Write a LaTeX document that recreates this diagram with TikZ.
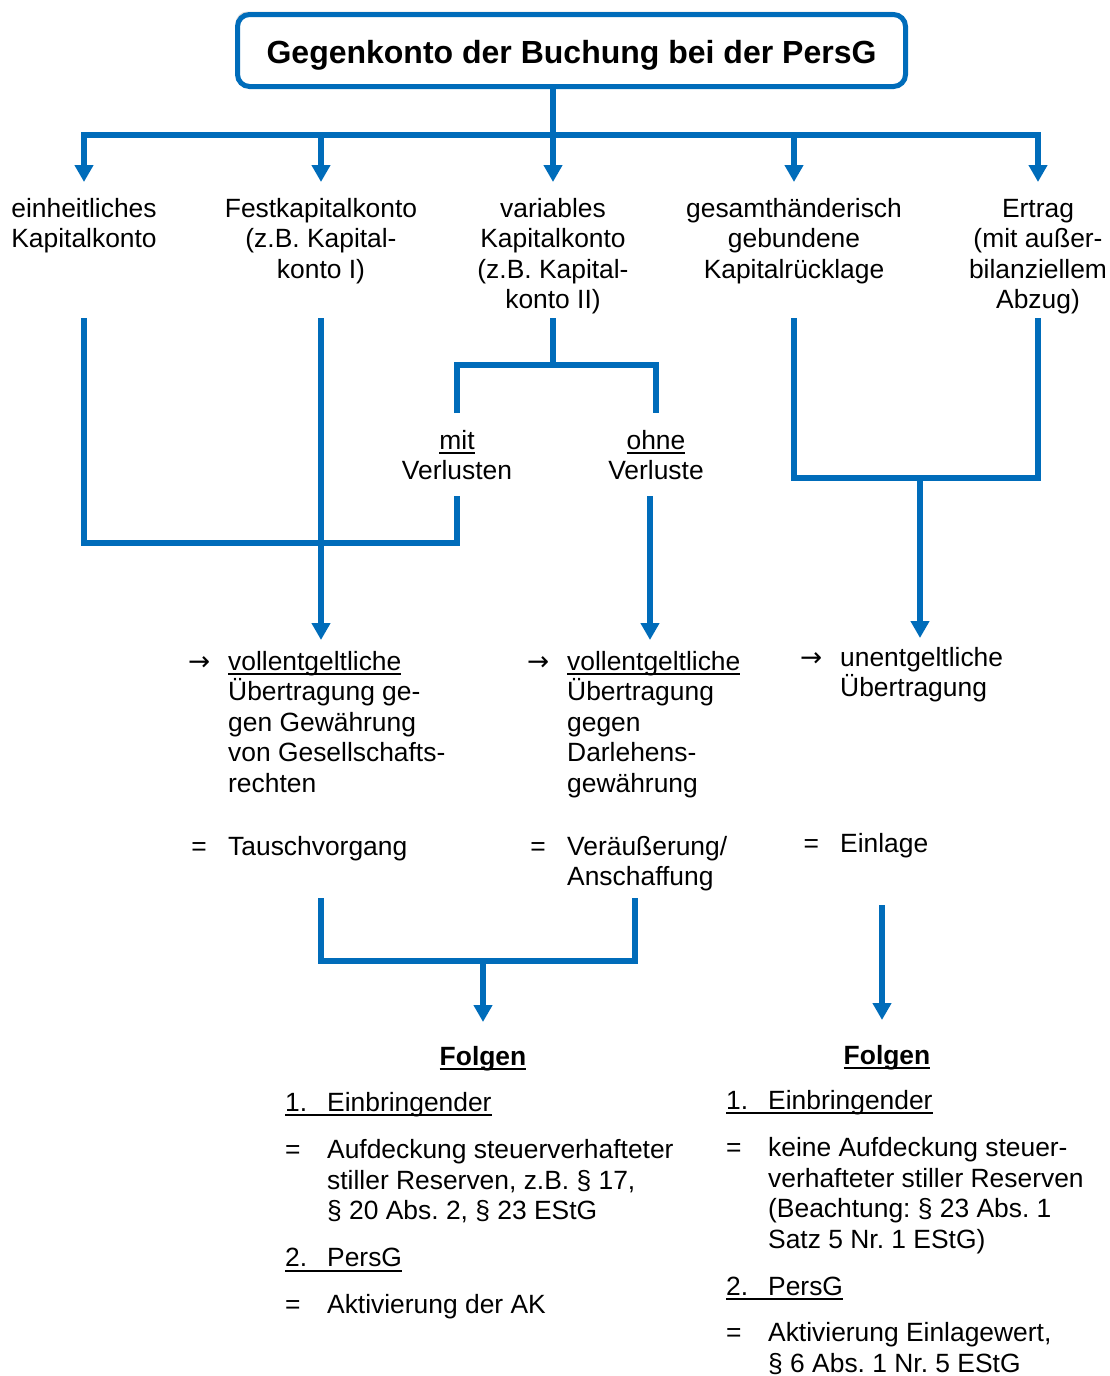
\documentclass[tikz,border=0pt]{standalone}
\usepackage{fontspec}
\setmainfont{Liberation Sans}
\newfontfamily\arrowfont{DejaVu Sans}
\frenchspacing
\usetikzlibrary{arrows.meta,shadows}
\definecolor{kontoblue}{RGB}{0,108,186}
\newcommand{\ts}{\rule{0pt}{26pt}}
\newcommand{\uln}[1]{\setbox0\hbox{#1}\rlap{\rule[-5pt]{\wd0}{2pt}}\box0}
\newcommand{\itemsym}[1]{\llap{\makebox[22pt]{#1}\hspace{18pt}}}

\begin{document}
\begin{tikzpicture}[x=1pt,y=-1pt,
  every node/.style={inner sep=0pt,font=\fontsize{26.4}{30.5}\selectfont},
  conn/.style={draw=kontoblue,line width=5.5pt},
  arr/.style={conn,-{Triangle[width=18pt,length=17pt]}},
  head/.style={anchor=north,align=center},
  item/.style={anchor=north west,align=left},
  bold/.style={font=\bfseries\fontsize{26.4}{30.5}\selectfont}]
  \useasboundingbox (0,0) rectangle (1109,1376);
  % Title
  \node[draw=kontoblue,line width=5pt,rounded corners=12pt,fill=white,
        minimum width=668pt,minimum height=72pt,text height=26pt,text depth=0pt,
        drop shadow={shadow xshift=-2pt,shadow yshift=3pt,opacity=.3},
        font=\bfseries\fontsize{32}{38}\selectfont] (title) at (571.5,50.5)
        {Gegenkonto der Buchung bei der PersG};
  % Accounts
  \node[head] (k1) at (84,191)   {\ts einheitliches\\Kapitalkonto};
  \node[head] (k2) at (321,191)  {\ts Festkapitalkonto\\(z.B. Kapital-\\konto I)};
  \node[head] (k3) at (553,191)  {\ts variables\\Kapitalkonto\\(z.B. Kapital-\\konto II)};
  \node[head] (k4) at (794,191)  {\ts gesamthänderisch\\gebundene\\Kapitalrücklage};
  \node[head] (k5) at (1038,191) {\ts Ertrag\\(mit außer-\\bilanziellem\\Abzug)};
  \node[head] (mit)  at (457,423) {\ts\uln{mit}\\Verlusten};
  \node[head] (ohne) at (656,423) {\ts\uln{ohne}\\Verluste};
  % Kind of transfer
  \node[item] (v1) at (228,644) {\ts\itemsym{\arrowfont →}\uln{vollentgeltliche}\\Übertragung ge-\\gen Gewährung\\von Gesellschafts-\\rechten};
  \node[item] (t1) at (228,829) {\ts\itemsym{=}Tauschvorgang};
  \node[item] (v2) at (567,644) {\ts\itemsym{\arrowfont →}\uln{vollentgeltliche}\\Übertragung\\gegen\\Darlehens-\\gewährung};
  \node[item] (t2) at (567,829) {\ts\itemsym{=}Veräußerung/\\Anschaffung};
  \node[item] (u3) at (840,640) {\ts\itemsym{\arrowfont →}unentgeltliche\\Übertragung};
  \node[item] (t3) at (840,826) {\ts\itemsym{=}Einlage};
  % Consequences
  \node[head,bold] (fL) at (483,1039) {\ts\uln{Folgen}};
  \node[head,bold] (fR) at (887,1038) {\ts\uln{Folgen}};
  \node[item] (lL) at (285,1085) {\ts\uln{\makebox[42pt][l]{1.}Einbringender}\\[17pt]
    \makebox[42pt][l]{=}Aufdeckung steuerverhafteter\\
    \hspace*{42pt}stiller Reserven, z.B. § 17,\\
    \hspace*{42pt}§ 20 Abs. 2, § 23 EStG\\[16.5pt]
    \uln{\makebox[42pt][l]{2.}PersG}\\[16.5pt]
    \makebox[42pt][l]{=}Aktivierung der AK};
  \node[item] (lR) at (726,1083) {\ts\uln{\makebox[42pt][l]{1.}Einbringender}\\[17pt]
    \makebox[42pt][l]{=}keine Aufdeckung steuer-\\
    \hspace*{42pt}verhafteter stiller Reserven\\
    \hspace*{42pt}(Beachtung: § 23 Abs. 1\\
    \hspace*{42pt}Satz 5 Nr. 1 EStG)\\[16.5pt]
    \uln{\makebox[42pt][l]{2.}PersG}\\[16pt]
    \makebox[42pt][l]{=}Aktivierung Einlagewert,\\
    \hspace*{42pt}§ 6 Abs. 1 Nr. 5 EStG};
  % Helper points
  \coordinate (bar) at (553,135);
  \coordinate (row) at (0,318);
  \coordinate (split) at (553,365);
  \coordinate (lossbar) at (0,543);
  \coordinate (ubar) at (920,478);
  \coordinate (tL) at (321,898);
  \coordinate (tR) at (635,898);
  \coordinate (lbar) at (483,961);
  \coordinate (rdrop) at (882,905);
  % Connectors
  \draw[conn] (title.south -| bar) -- (bar);
  \foreach \k in {k1,k2,k3,k4,k5}
    \draw[arr,shorten >=9pt] (bar) -| (\k.north);
  \draw[conn,shorten >=16pt] (k1 |- row) |- (mit |- lossbar) -- (mit.south);
  \draw[arr,shorten >=4pt] (k2 |- row) -- (k2 |- v1.north);
  \draw[conn] (k3 |- row) -- (split);
  \draw[conn,shorten <=10pt,shorten >=10pt] (mit.north) |- (split) -| (ohne.north);
  \draw[arr,shorten <=16pt,shorten >=4pt] ([xshift=-6pt]ohne.south) -- ([xshift=-6pt]ohne.south |- v2.north);
  \draw[conn] (k4 |- row) |- (k5 |- ubar) -- (k5 |- row);
  \draw[arr,shorten >=2pt] (ubar) -- (ubar |- u3.north);
  \draw[conn] (tL) |- (lbar) -| (tR);
  \draw[arr,shorten >=17pt] (lbar) -- (fL.north);
  \draw[arr,shorten >=18pt] (rdrop) -- (rdrop |- fR.north);
\end{tikzpicture}
\end{document}
